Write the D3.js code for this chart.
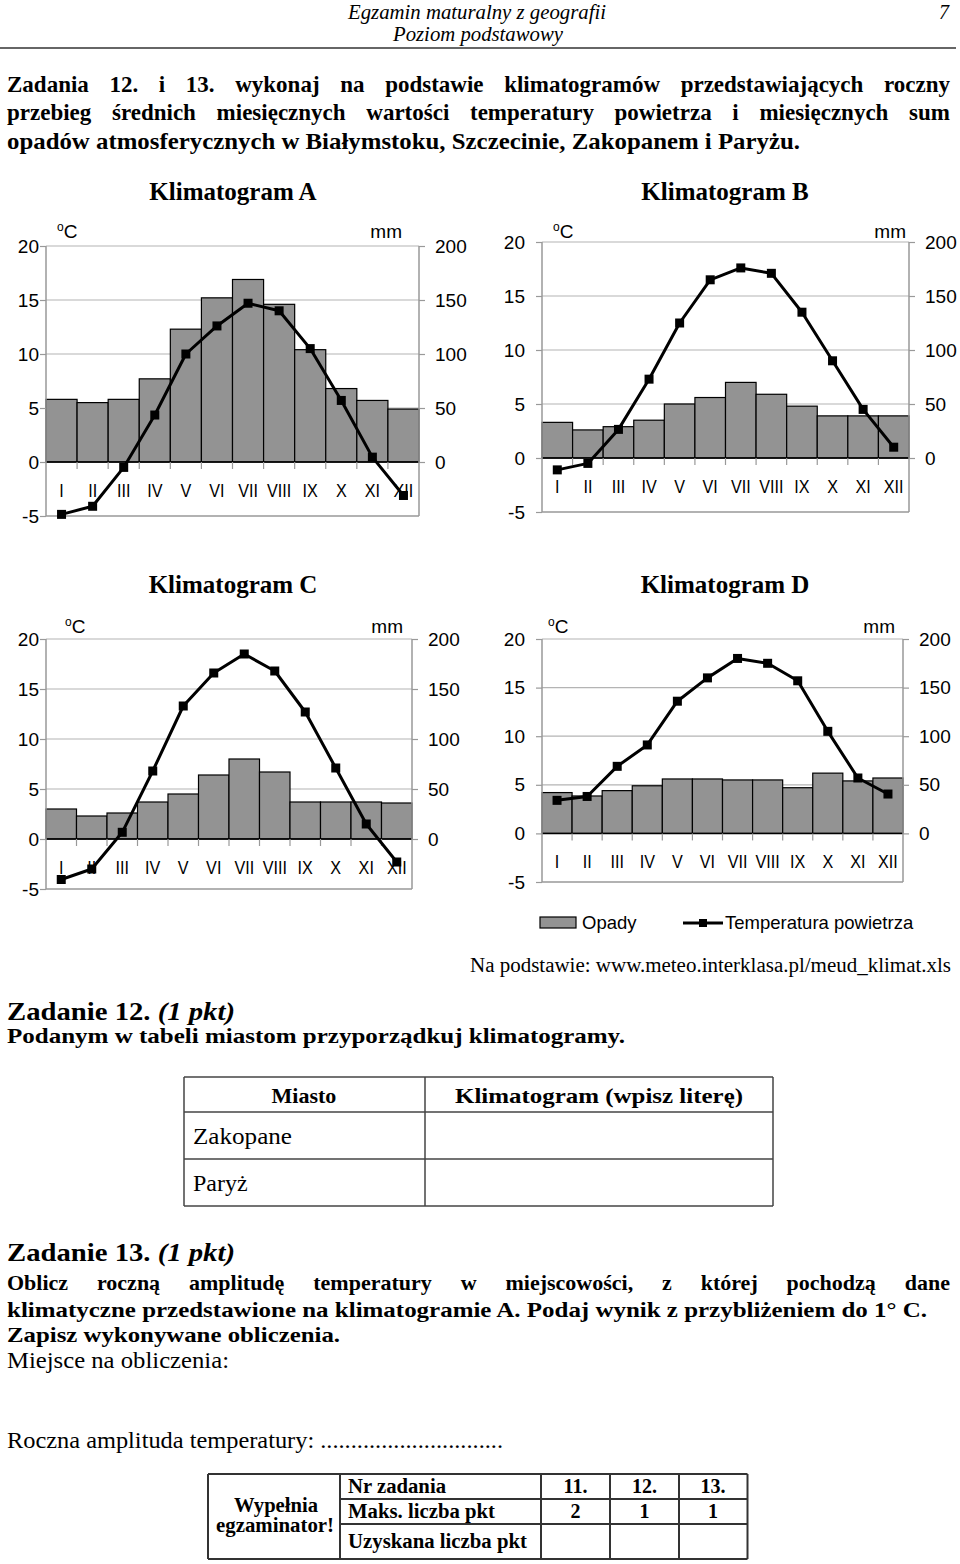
<!DOCTYPE html>
<html><head><meta charset="utf-8">
<script src="https://cdn.jsdelivr.net/npm/d3@7"></script>
<style>body{margin:0;background:#fff}</style>
</head><body>
<script>
// ---------- DATA ----------
const months = ["I","II","III","IV","V","VI","VII","VIII","IX","X","XI","XII"];
const precipA = [58,55,58,77,123,152,169,146,104,68,57,49];
const tempA   = [-4.85,-4.1,-0.5,4.35,10.0,12.6,14.7,14.0,10.5,5.7,0.45,-3.1];
const precipB = [33,26,29,35,50,56,70,59,48,39,39,39];
const tempB   = [-1.1,-0.5,2.65,7.3,12.5,16.5,17.6,17.1,13.5,9.0,4.5,1.0];
const precipC = [30,23,26,37,45,64,80,67,37,37,37,36];
const tempC   = [-4.05,-3.0,0.67,6.8,13.3,16.6,18.5,16.8,12.7,7.1,1.5,-2.3];
const precipD = [42,38.5,44,49,56,56,55,55,47,62,54,57];
const tempD   = [3.4,3.8,6.9,9.1,13.6,16.0,18.0,17.5,15.7,10.5,5.7,4.05];
const leftTicks = [-5,0,5,10,15,20];
const rightTicks = [0,50,100,150,200];
const chartTitles = ["Klimatogram A","Klimatogram B","Klimatogram C","Klimatogram D"];
const legendLabels = ["Opady","Temperatura powietrza"];

// ---------- SETUP ----------
const W=960,H=1564;
const svg = d3.select("body").append("svg").attr("width",W).attr("height",H).style("display","block");
const SERIF = "'Liberation Serif','Times New Roman',serif";
const SANS = "'Liberation Sans',Arial,sans-serif";
const BAR = "#939393";

function txt(g,x,y,s,o={}){
  const t=g.append("text").attr("x",x).attr("y",y).text(s)
    .attr("font-family",o.family||SERIF).attr("font-size",o.size||20)
    .attr("font-weight",o.weight||"normal").attr("font-style",o.style||"normal")
    .attr("text-anchor",o.anchor||"start").attr("fill",o.fill||"#000");
  if(o.len) t.attr("textLength",o.len).attr("lengthAdjust","spacingAndGlyphs");
  return t;
}
function justify(g,s,x0,x1,y,o){
  const t=g.append("text").attr("font-family",o.family||SERIF).attr("font-size",o.size)
    .attr("font-weight",o.weight||"normal").attr("fill","#000");
  const words=s.split(" ");
  const spans=words.map(w=>t.append("tspan").text(w));
  const widths=spans.map(sp=>sp.node().getComputedTextLength());
  const total=d3.sum(widths);
  let gap=(x1-x0-total)/(words.length-1);
  if(gap<3){ t.remove(); txt(g,x0,y,s,Object.assign({},o,{len:x1-x0})); return; }
  let x=x0;
  spans.forEach((sp,i)=>{sp.attr("x",x).attr("y",y); x+=widths[i]+gap;});
}
function hline(x1,x2,y,c,w){svg.append("line").attr("x1",x1).attr("x2",x2).attr("y1",y).attr("y2",y).attr("stroke",c).attr("stroke-width",w);}
function vline(x,y1,y2,c,w){svg.append("line").attr("x1",x).attr("x2",x).attr("y1",y1).attr("y2",y2).attr("stroke",c).attr("stroke-width",w);}

// ---------- HEADER ----------
txt(svg,477,19,"Egzamin maturalny z geografii",{style:"italic",size:20,anchor:"middle",len:258});
txt(svg,478,41,"Poziom podstawowy",{style:"italic",size:20,anchor:"middle",len:170});
txt(svg,949,19,"7",{style:"italic",size:20,anchor:"end"});
hline(0,956,48,"#333",1.5);

justify(svg,"Zadania 12. i 13. wykonaj na podstawie klimatogramów przedstawiających roczny",7,950,92,{size:23,weight:"bold"});
justify(svg,"przebieg średnich miesięcznych wartości temperatury powietrza i miesięcznych sum",7,950,120,{size:23,weight:"bold"});
txt(svg,7,149,"opadów atmosferycznych w Białymstoku, Szczecinie, Zakopanem i Paryżu.",{size:23,weight:"bold",len:793});

// ---------- CHARTS ----------
const charts=[
 {title:chartTitles[0],precip:precipA,temp:tempA,x0:46,x1:419,yTop:246,yBot:516,titleX:233,titleY:200,lblGap:7,unitY:238,degX:57,mmX:402},
 {title:chartTitles[1],precip:precipB,temp:tempB,x0:542,x1:909,yTop:242,yBot:512,titleX:725,titleY:200,lblGap:17,unitY:238,degX:553,mmX:906},
 {title:chartTitles[2],precip:precipC,temp:tempC,x0:46,x1:412,yTop:639,yBot:889,titleX:233,titleY:593,lblGap:7,unitY:633,degX:65,mmX:403},
 {title:chartTitles[3],precip:precipD,temp:tempD,x0:542,x1:903,yTop:639,yBot:882,titleX:725,titleY:593,lblGap:17,unitY:633,degX:548,mmX:895}
];
function drawChart(c){
  const g=svg.append("g");
  const x=d3.scaleBand().domain(months).range([c.x0,c.x1]).padding(0);
  const yT=d3.scaleLinear().domain([-5,20]).range([c.yBot,c.yTop]);
  const yP=d3.scaleLinear().domain([0,200]).range([yT(0),yT(20)]);
  txt(g,c.titleX,c.titleY,c.title,{size:25,weight:"bold",anchor:"middle"});
  // grid
  g.selectAll("line.grid").data([5,10,15,20]).join("line").attr("class","grid")
    .attr("x1",c.x0).attr("x2",c.x1).attr("y1",d=>yT(d)).attr("y2",d=>yT(d))
    .attr("stroke","#b4b4b4").attr("stroke-width",1.2);
  g.append("line").attr("x1",c.x0).attr("x2",c.x1).attr("y1",yT(-5)).attr("y2",yT(-5)).attr("stroke","#999").attr("stroke-width",1.5);
  // bars
  g.selectAll("rect.bar").data(c.precip).join("rect").attr("class","bar")
    .attr("x",(d,i)=>x(months[i])).attr("width",x.bandwidth())
    .attr("y",d=>yP(d)).attr("height",d=>yP(0)-yP(d))
    .attr("fill",BAR).attr("stroke","#000").attr("stroke-width",1.2);
  // zero line + category ticks
  g.append("line").attr("x1",c.x0).attr("x2",c.x1).attr("y1",yT(0)).attr("y2",yT(0)).attr("stroke","#000").attr("stroke-width",1.5);
  g.selectAll("line.ct").data(months.slice(1)).join("line").attr("class","ct")
    .attr("x1",d=>x(d)).attr("x2",d=>x(d)).attr("y1",yT(0)).attr("y2",yT(0)+7)
    .attr("stroke","#999").attr("stroke-width",1.2);
  // axes
  const axL=g.append("g").attr("transform",`translate(${c.x0},0)`)
    .call(d3.axisLeft(yT).tickValues(leftTicks).tickSize(6).tickSizeOuter(0).tickPadding(c.lblGap-6).tickFormat(d=>d));
  const axR=g.append("g").attr("transform",`translate(${c.x1},0)`)
    .call(d3.axisRight(yP).tickValues(rightTicks).tickSize(6).tickSizeOuter(0).tickPadding(10).tickFormat(d=>d));
  [axL,axR].forEach(a=>{
    a.attr("font-family",SANS).attr("font-size",19);
    a.selectAll("text").attr("fill","#000");
    a.selectAll(".tick line").attr("stroke","#999").attr("stroke-width",1.2);
    a.select(".domain").remove();
  });
  g.append("line").attr("x1",c.x0).attr("x2",c.x0).attr("y1",c.yTop).attr("y2",c.yBot).attr("stroke","#999").attr("stroke-width",1.5);
  g.append("line").attr("x1",c.x1).attr("x2",c.x1).attr("y1",c.yTop).attr("y2",c.yBot).attr("stroke","#999").attr("stroke-width",1.5);
  // month labels
  g.selectAll("text.mon").data(months).join("text").attr("class","mon")
    .attr("transform",d=>`translate(${x(d)+x.bandwidth()/2},${yT(0)+34.5}) scale(0.85,1)`)
    .attr("text-anchor","middle").attr("font-family",SANS).attr("font-size",19).text(d=>d);
  // temperature line
  const line=d3.line().x((d,i)=>x(months[i])+x.bandwidth()/2).y(d=>yT(d));
  g.append("path").datum(c.temp).attr("d",line).attr("fill","none").attr("stroke","#000")
    .attr("stroke-width",3).attr("stroke-linejoin","round");
  const s=9;
  g.selectAll("rect.mk").data(c.temp).join("rect").attr("class","mk")
    .attr("x",(d,i)=>x(months[i])+x.bandwidth()/2-s/2).attr("y",d=>yT(d)-s/2)
    .attr("width",s).attr("height",s).attr("fill","#000");
  // units
  const u=g.append("text").attr("x",c.degX).attr("y",c.unitY).attr("font-family",SANS).attr("font-size",19);
  u.append("tspan").attr("font-size",12).attr("dy",-7).text("o");
  u.append("tspan").attr("dy",7).text("C");
  txt(g,c.mmX,c.unitY,"mm",{family:SANS,size:19,anchor:"end"});
}
charts.forEach(drawChart);

// ---------- LEGEND ----------
svg.append("rect").attr("x",540).attr("y",917).attr("width",36).attr("height",11).attr("fill",BAR).attr("stroke","#000").attr("stroke-width",1.2);
txt(svg,582,929,legendLabels[0],{family:SANS,size:18.5});
hline(683,723,923,"#000",3);
svg.append("rect").attr("x",699).attr("y",919).attr("width",8).attr("height",8).attr("fill","#000");
txt(svg,725,929,legendLabels[1],{family:SANS,size:18.5});

txt(svg,951,972,"Na podstawie: www.meteo.interklasa.pl/meud_klimat.xls",{size:20,anchor:"end",len:481});

// ---------- ZADANIE 12 ----------
const z12=txt(svg,7,1020,"Zadanie 12. ",{size:25,weight:"bold"});
z12.append("tspan").attr("font-style","italic").text("(1 pkt)");
z12.attr("textLength",228).attr("lengthAdjust","spacingAndGlyphs");
txt(svg,7,1043,"Podanym w tabeli miastom przyporządkuj klimatogramy.",{size:22,weight:"bold",len:618});

// table 1
const t1x=[184,425,773], t1y=[1077,1112,1159,1206];
t1y.forEach(y=>hline(t1x[0],t1x[2],y,"#444",1.5));
t1x.forEach(x=>vline(x,t1y[0],t1y[3],"#444",1.5));
txt(svg,304,1103,"Miasto",{size:22,weight:"bold",anchor:"middle"});
txt(svg,599,1103,"Klimatogram (wpisz literę)",{size:22,weight:"bold",anchor:"middle",len:288});
txt(svg,193,1144,"Zakopane",{size:24,len:99});
txt(svg,193,1191,"Paryż",{size:24});

// ---------- ZADANIE 13 ----------
const z13=txt(svg,7,1261,"Zadanie 13. ",{size:25,weight:"bold"});
z13.append("tspan").attr("font-style","italic").text("(1 pkt)");
z13.attr("textLength",228).attr("lengthAdjust","spacingAndGlyphs");
justify(svg,"Oblicz roczną amplitudę temperatury w miejscowości, z której pochodzą dane",7,950,1290,{size:22,weight:"bold"});
txt(svg,7,1317,"klimatyczne przedstawione na klimatogramie A. Podaj wynik z przybliżeniem do 1° C.",{size:22,weight:"bold",len:920});
txt(svg,7,1342,"Zapisz wykonywane obliczenia.",{size:22,weight:"bold",len:333});
txt(svg,7,1368,"Miejsce na obliczenia:",{size:24,len:222});
txt(svg,7,1448,"Roczna amplituda temperatury: ..............................",{size:24,len:496});

// table 2
const T2L=208,T2C=[340,541,610,679,747.5],T2Y=[1474,1499,1524,1559];
hline(T2L,T2C[4],T2Y[0],"#333",2);hline(T2L,T2C[4],T2Y[3],"#333",2);
hline(T2C[0],T2C[4],T2Y[1],"#333",2);hline(T2C[0],T2C[4],T2Y[2],"#333",2);
vline(T2L,T2Y[0],T2Y[3],"#333",2);
T2C.forEach(x=>vline(x,T2Y[0],T2Y[3],"#333",2));
txt(svg,276,1512,"Wypełnia",{size:20,weight:"bold",anchor:"middle",len:84});
txt(svg,275,1532,"egzaminator!",{size:20,weight:"bold",anchor:"middle",len:118});
txt(svg,348,1493,"Nr zadania",{size:20,weight:"bold",len:98});
txt(svg,348,1518,"Maks. liczba pkt",{size:20,weight:"bold",len:147});
txt(svg,348,1548,"Uzyskana liczba pkt",{size:20,weight:"bold",len:179});
const colC=[575.5,644.5,713];
["11.","12.","13."].forEach((s,i)=>txt(svg,colC[i],1493,s,{size:20,weight:"bold",anchor:"middle"}));
["2","1","1"].forEach((s,i)=>txt(svg,colC[i],1518,s,{size:20,weight:"bold",anchor:"middle"}));
</script>
</body></html>
